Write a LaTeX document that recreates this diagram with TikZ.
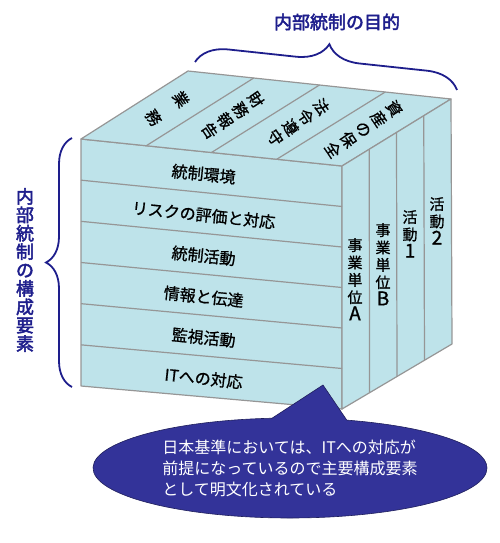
\documentclass[tikz,border=0pt]{standalone}
\usepackage{fontspec}
\setmainfont{Noto Sans CJK JP}
\newfontfamily\labelfont{Noto Sans CJK JP}[FakeBold=1]
\newfontfamily\headfont{Noto Sans CJK JP}[FakeBold=2.5]
\usetikzlibrary{calc,decorations.pathreplacing,shapes.callouts}
\definecolor{facecolor}{RGB}{190,227,234}
\definecolor{edgecolor}{RGB}{150,150,150}
\definecolor{navycolor}{RGB}{30,30,140}
\definecolor{calloutcolor}{RGB}{51,51,153}
\newcommand\latinch[1]{{\fontsize{19}{17.4}\selectfont #1}}

\begin{document}
\begin{tikzpicture}[x=1pt, y=-1pt,
  face/.style={fill=facecolor, draw=edgecolor, line width=1.2pt, line join=round},
  divider/.style={draw=edgecolor, line width=1.2pt},
  rowlabel/.style={font=\labelfont\fontsize{16}{18}\selectfont, rotate=-5.9, inner sep=0pt},
  aimlabel/.style={font=\labelfont\fontsize{15.5}{18.5}\selectfont, align=center, rotate=-56, inner sep=0pt},
  unitlabel/.style={font=\labelfont\fontsize{15}{17.4}\selectfont, align=center, anchor=north, inner sep=0pt},
  bracebar/.style={draw=navycolor, line width=1.8pt, decorate},
  headline/.style={text=navycolor, inner sep=0pt, font=\headfont\fontsize{18}{18.4}\selectfont}]

  \useasboundingbox (0,0) rectangle (500,543);

  % cube corners
  \coordinate (ftl) at (81,139);
  \coordinate (ftr) at (342,166);
  \coordinate (fbr) at (342,409);
  \coordinate (fbl) at (81,386);
  \coordinate (btl) at (188,71);
  \coordinate (btr) at (451,99);
  \coordinate (bbr) at (452,344);

  \draw[face] (ftl) -- (ftr) -- (fbr) -- (fbl) -- cycle;
  \draw[face] (ftl) -- (btl) -- (btr) -- (ftr) -- cycle;
  \draw[face] (ftr) -- (btr) -- (bbr) -- (fbr) -- cycle;

  \foreach \i in {1,...,5}
    \draw[divider] ($(ftl)!\i/6!(fbl)$) -- ($(ftr)!\i/6!(fbr)$);
  \foreach \i in {1,2,3}
    \draw[divider] ($(ftl)!\i/4!(ftr)$) -- ($(btl)!\i/4!(btr)$);
  \foreach \i in {1,2,3}
    \draw[divider] ($(ftr)!\i/4!(btr)$) -- ($(fbr)!\i/4!(bbr)$);

  % front face
  \foreach \t [count=\i] in {統制環境, リスクの評価と対応, 統制活動, 情報と伝達, 監視活動, ITへの対応} {
    \coordinate (rl) at ($(ftl)!{(\i-0.5)/6}!(fbl)$);
    \coordinate (rr) at ($(ftr)!{(\i-0.5)/6}!(fbr)$);
    \node[rowlabel] (row\i) at ($(rl)!0.47!(rr)+(0,2)$) {\t};
  }

  % top face
  \foreach \t [count=\i] in {{業\\[14.5pt]務}, {財\\務\\報\\告}, {法\\令\\遵\\守}, {資\\産\\の\\保\\全}} {
    \coordinate (cf) at ($(ftl)!{(\i-0.5)/4}!(ftr)$);
    \coordinate (cb) at ($(btl)!{(\i-0.5)/4}!(btr)$);
    \node[aimlabel] (aim\i) at ($(cf)!0.5!(cb)$) {\t};
  }

  % right face
  \foreach \x/\y/\t [count=\i] in {355/238/{事\\業\\単\\位\\\latinch{A}}, 383/223/{事\\業\\単\\位\\\latinch{B}},
                                   410/210/{活\\動\\\latinch{1}}, 437/197/{活\\動\\\latinch{2}}}
    \node[unitlabel] (unit\i) at (\x,\y) {\t};

  % braces and titles
  \coordinate (aimL) at (195,62);
  \coordinate (aimR) at (457,90);
  \draw[bracebar, decoration={brace, amplitude=32pt}] (aimL) -- (aimR);
  \node[headline] (aimtitle) at (337,22) {内部統制の目的};

  \coordinate (partT) at (72,138);
  \coordinate (partB) at (72,387);
  \draw[bracebar, decoration={brace, amplitude=26pt}] (partB) -- (partT);
  \node[headline, align=center] (parttitle) at (25,270) {内\\部\\統\\制\\の\\構\\成\\要\\素};

  % callout
  \coordinate (tip) at (323,385);
  \node[ellipse callout, callout absolute pointer={(tip)}, callout pointer arc=22,
        fill=calloutcolor, draw=calloutcolor!60!black, line width=0.6pt,
        minimum width=394pt, minimum height=100pt, inner sep=0pt,
        text=white, align=left, font=\fontsize{16}{21}\selectfont] (note) at (290,468)
    {日本基準においては、ITへの対応が\\前提になっているので主要構成要素\\として明文化されている};
\end{tikzpicture}
\end{document}
